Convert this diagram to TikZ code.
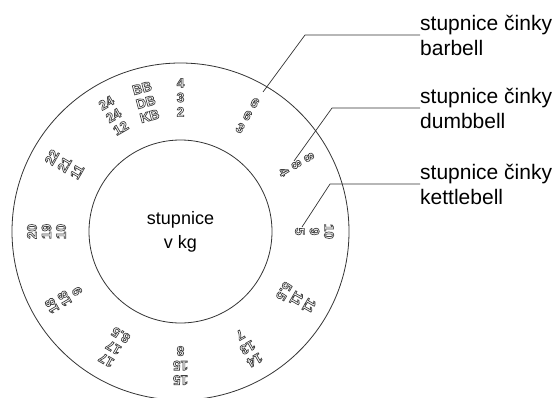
\documentclass[tikz,border=0pt]{standalone}
\usepackage{fontspec}
\setmainfont{Liberation Sans}
\newcommand{\hollow}[1]{{\special{pdf:literal direct 1 Tr 0.7 w 0.25 0.25 0.25 RG}#1\special{pdf:literal direct 0 Tr}}}
\usetikzlibrary{calc}

\begin{document}
\begin{tikzpicture}[x=1pt,y=1pt,
  ring/.style={draw=black!80,line width=0.8pt},
  scalegroup/.style={align=center,inner sep=0pt,font=\bfseries\fontsize{13.5}{14.5}\selectfont},
  callout/.style={anchor=west,align=left,inner sep=0pt,font=\fontsize{21}{25}\selectfont},
  leader/.style={draw=black!80,line width=0.7pt}]
  \useasboundingbox (0,0) rectangle (553,397);
  \coordinate (c) at (180.5,165.5);
  \draw[ring] (c) circle[radius=168.5];
  \draw[ring] (c) circle[radius=91.5];
  \node[align=center,font=\fontsize{18}{24}\selectfont] (centre) at (c) {stupnice\\v kg};
  % scale values: BB outer, DB middle, KB inner
  \foreach \ang/\bb/\db/\kb [count=\i] in {105/BB/DB/KB,90/4/3/2,60/6/6/3,30/8/8/4,0/10/9/5,
      -30/11/11/5.5,-60/14/13/7,-90/15/15/8,-120/17/17/8.5,-150/18/18/9,180/20/19/10,
      150/22/21/11,120/24/24/12}
    \node[scalegroup,rotate=\ang-90] (g\i) at ($(c)+(\ang:134)$)
      {\hollow{\bb}\\\hollow{\db}\\\hollow{\kb}};
  \node[callout] (lbb) at (420,362) {stupnice činky\\barbell};
  \node[callout] (ldb) at (420,289) {stupnice činky\\dumbbell};
  \node[callout] (lkb) at (420,213) {stupnice činky\\kettlebell};
  \coordinate (bbknee) at (305,362);
  \coordinate (dbknee) at (332,289);
  \coordinate (kbknee) at (330,213);
  \coordinate (bbtip) at (263,305);
  \coordinate (dbtip) at (294,236);
  \coordinate (kbtip) at (302,170);
  \draw[leader] (lbb.west) -- (bbknee) -- (bbtip);
  \draw[leader] (ldb.west) -- (dbknee) -- (dbtip);
  \draw[leader] (lkb.west) -- (kbknee) -- (kbtip);
\end{tikzpicture}
\end{document}
